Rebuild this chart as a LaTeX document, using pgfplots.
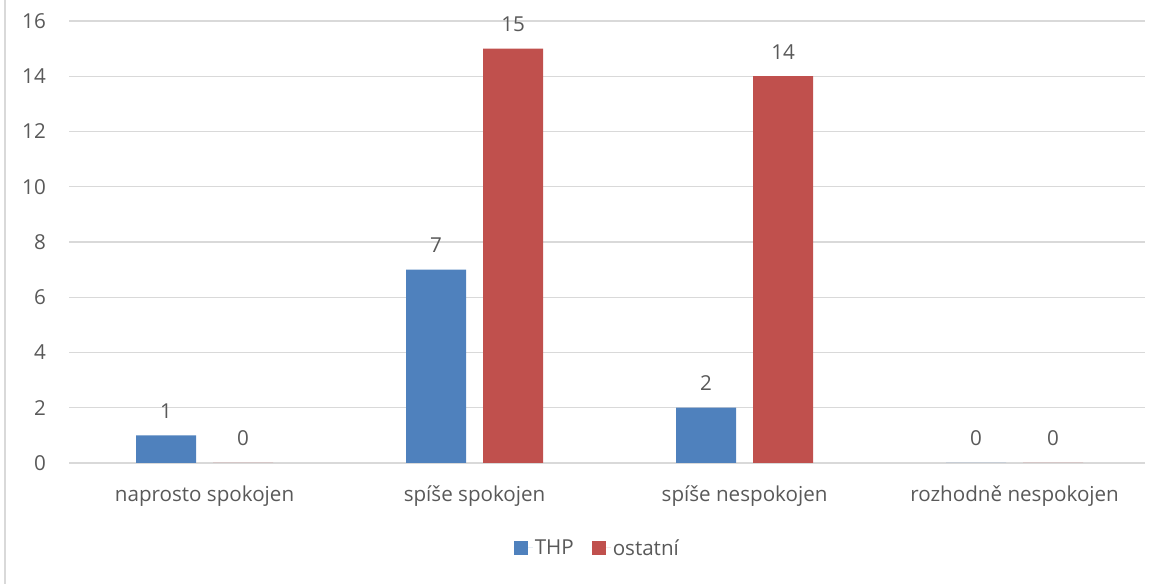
\documentclass[border=0pt]{standalone}
\usepackage{fontspec}
\setmainfont{Open Sans}
\usepackage{pgfplots}
\pgfplotsset{compat=1.18}
\definecolor{thp}{HTML}{4F81BD}
\definecolor{ost}{HTML}{C0504D}
\definecolor{gridc}{HTML}{D9D9D9}
\definecolor{txt}{HTML}{595959}
\newcommand{\cf}{\fontsize{20.6bp}{24bp}\selectfont}
\begin{document}
\begin{tikzpicture}
\path[use as bounding box] (0,0) rectangle (1164bp,584bp);
\draw[gridc, line width=1.2bp] (5bp,0) -- (5bp,584bp);
\begin{axis}[
  at={(69bp,121bp)}, anchor=south west,
  scale only axis, width=1076bp, height=442bp,
  xmin=-0.502, xmax=3.483, ymin=0, ymax=16,
  ytick={0,2,...,16},
  xtick={0,1,2,3},
  xticklabels={naprosto spokojen, spíše spokojen, spíše nespokojen, rozhodně nespokojen},
  axis line style={draw=none},
  tick style={draw=none},
  ymajorgrids, major grid style={gridc, line width=1.2bp},
  ybar=17bp, bar width=60bp,
  ticklabel style={font=\cf, text=txt},
  /pgf/number format/assume math mode=true,
  yticklabel style={anchor=east, inner sep=0pt, xshift=-23bp},
  xticklabel style={anchor=north, inner sep=0pt, yshift=-18bp},
  nodes near coords,
  every node near coord/.append style={font=\cf, text=txt, inner sep=0pt, yshift=17bp},
  legend columns=2,
  legend style={at={(0.491,-0.192)}, anchor=center, draw=none, font=\cf, text=txt,
    /tikz/every even column/.append style={column sep=16bp}},
  legend image code/.code={\fill[#1] (0bp,-7bp) rectangle (14bp,7bp); \path (0bp,0bp) -- (19bp,0bp);},
]
\addplot[fill=thp, draw=none] coordinates {(0,1) (1,7) (2,2) (3,0)};
\addplot[fill=ost, draw=none] coordinates {(0,0) (1,15) (2,14) (3,0)};
\legend{THP, ostatní}
\end{axis}
\end{tikzpicture}
\end{document}
